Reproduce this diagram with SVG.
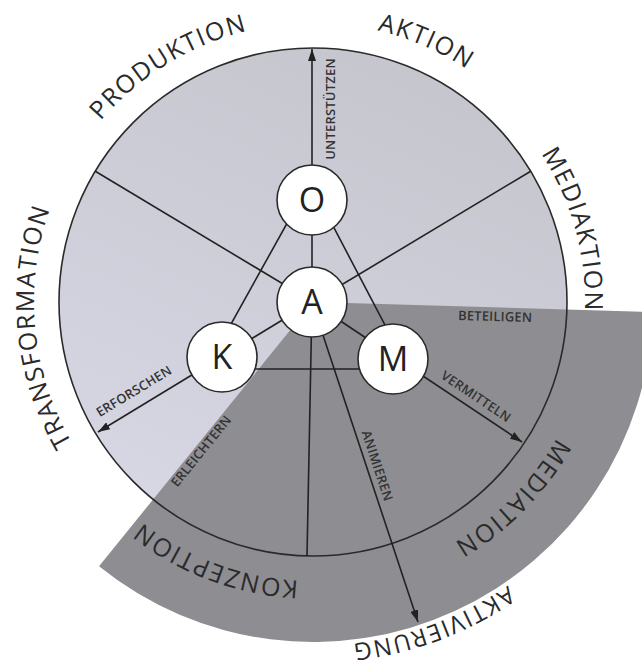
<svg xmlns="http://www.w3.org/2000/svg" width="642" height="669" viewBox="0 0 642 669">
<defs>
<linearGradient id="lg" x1="0.7" y1="0" x2="0.25" y2="1">
<stop offset="0" stop-color="#c5c5cd"/>
<stop offset="1" stop-color="#d8d8e6"/>
</linearGradient>
<marker id="ah" viewBox="0 0 12 8" refX="12" refY="4" markerWidth="12" markerHeight="8" markerUnits="userSpaceOnUse" orient="auto">
<path d="M0,0 L12,4 L0,8 Z" fill="#222"/>
</marker>
<path id="arc279" d="M35.06,277.67 A279,279 0 0 1 590.94,277.67"/>
<path id="arc272" d="M42.03,278.28 A272,272 0 0 1 583.97,278.28"/>
<path id="arc344" d="M-29.69,272.02 A344,344 0 0 1 655.69,272.02"/>
</defs>
<style>
.big{font-family:"Open Sans","Noto Sans",sans-serif;font-size:25px;fill:#2a2a2a;letter-spacing:1.5px}
.small{font-family:"Open Sans","Noto Sans",sans-serif;font-size:13px;font-weight:600;fill:#333;letter-spacing:0.2px}
.node circle{fill:#fff;stroke:#2a2a2a;stroke-width:1.6}
.node text{font-family:"Open Sans","Noto Sans",sans-serif;font-size:34px;fill:#222;text-anchor:middle}
.ln{stroke:#222;stroke-width:1.6;fill:none}
</style>
<rect width="642" height="669" fill="#fff"/>
<g id="background">
<circle cx="313" cy="302" r="254" fill="url(#lg)"/>
<path d="M313,302 L652.85,312.09 A340,340 0 0 1 99.04,566.2 Z" fill="#8e8e92"/>
<circle cx="313" cy="302" r="254" fill="none" stroke="#2a2a2a" stroke-width="1.6"/>
</g>
<g id="connectors">
<line class="ln" x1="313" y1="302" x2="95.3" y2="171.2"/>
<line class="ln" x1="313" y1="302" x2="530.7" y2="171.2"/>
<line class="ln" x1="312" y1="302" x2="307" y2="556"/>
<polygon class="ln" points="310,182 206,369 408,369"/>
<line class="ln" x1="312" y1="302" x2="312" y2="49" marker-end="url(#ah)"/>
<line class="ln" x1="312" y1="302" x2="98" y2="432" marker-end="url(#ah)"/>
<line class="ln" x1="312" y1="302" x2="522" y2="442" marker-end="url(#ah)"/>
<line class="ln" x1="312" y1="302" x2="418" y2="622" marker-end="url(#ah)"/>
</g>
<g id="edge-labels">
<text class="small" transform="translate(313,109) rotate(-90)" x="0" y="22" text-anchor="middle">UNTERSTÜTZEN</text>
<text class="small" transform="translate(495,321) rotate(1.7)" text-anchor="middle">BETEILIGEN</text>
<text class="small" transform="translate(469.2,406.9) rotate(33.7)" y="-8" text-anchor="middle">VERMITTELN</text>
<text class="small" transform="translate(142,404.5) rotate(-31.3)" y="-11" text-anchor="middle">ERFORSCHEN</text>
<text class="small" transform="translate(367.3,469) rotate(71.66)" y="-6" text-anchor="middle">ANIMIEREN</text>
<text class="small" transform="translate(196,447) rotate(-51)" y="11" text-anchor="middle">ERLEICHTERN</text>
</g>
<g id="node-O" class="node"><circle cx="312" cy="200" r="35"/><text x="312" y="212">O</text></g>
<g id="node-A" class="node"><circle cx="312" cy="302" r="35"/><text x="312" y="314">A</text></g>
<g id="node-K" class="node"><circle cx="222" cy="357" r="35"/><text x="222" y="369">K</text></g>
<g id="node-M" class="node"><circle cx="393" cy="359" r="35"/><text x="393" y="371">M</text></g>
<g id="ring-labels">
<text class="big" transform="rotate(-31.5 313 302)"><textPath href="#arc279" startOffset="50%" text-anchor="middle">PRODUKTION</textPath></text>
<text class="big" transform="rotate(23.5 313 302)"><textPath href="#arc279" startOffset="50%" text-anchor="middle">AKTION</textPath></text>
<text class="big" transform="rotate(74.5 313 302)"><textPath href="#arc272" startOffset="50%" text-anchor="middle">MEDIAKTION</textPath></text>
<text class="big" transform="rotate(134.5 313 302)"><textPath href="#arc279" startOffset="50%" text-anchor="middle">MEDIATION</textPath></text>
<text class="big" transform="rotate(159.5 313 302)" style="font-size:24px"><textPath href="#arc344" startOffset="50%" text-anchor="middle">AKTIVIERUNG</textPath></text>
<text class="big" transform="rotate(200.5 313 302)"><textPath href="#arc279" startOffset="50%" text-anchor="middle">KONZEPTION</textPath></text>
<text class="big" transform="rotate(264.7 313 302)"><textPath href="#arc279" startOffset="50%" text-anchor="middle">TRANSFORMATION</textPath></text>
</g>
</svg>
